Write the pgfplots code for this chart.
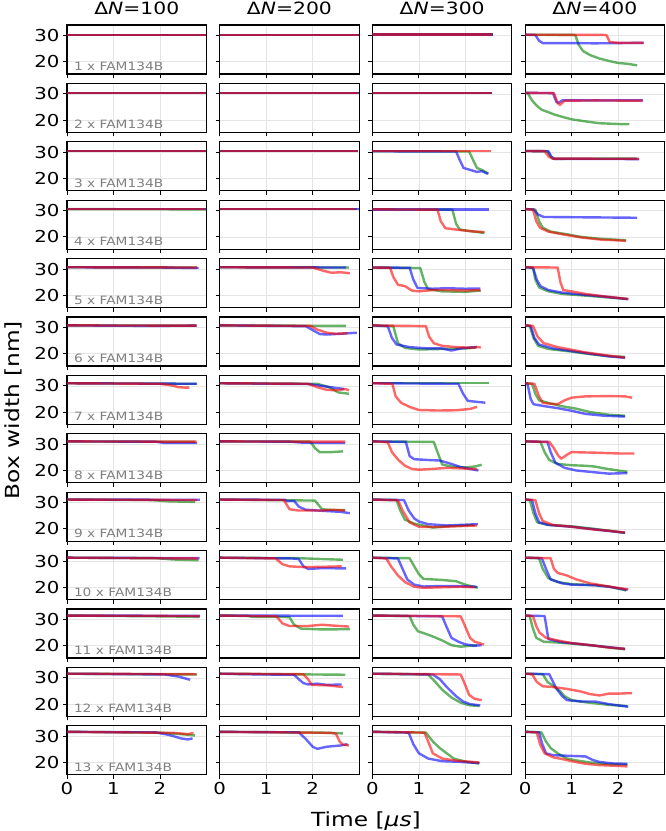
\documentclass[border=0pt]{standalone}
\usepackage{fontspec}
\setmainfont{DejaVu Sans}[FakeStretch=1.2]
\usepackage{pgfplots}
\pgfplotsset{compat=1.18}
\definecolor{mblue}{rgb}{0,0,1}
\definecolor{mgreen}{rgb}{0,0.5,0}
\definecolor{mred}{rgb}{1,0,0}
\pgfplotsset{
  panel/.style={scale only axis, width=139.5bp, height=49bp,
    xmin=0, xmax=3, ymin=15.3, ymax=34,
    xtick={0,1,2}, ytick={20,30}, tick pos=left,
    grid=major, major grid style={black!10, line width=0.6bp},
    axis line style={black, line width=1.1bp},
    tick style={black, line width=0.9bp}, tick align=outside, major tick length=4bp,
    xticklabels={}, yticklabels={},
    tick label style={font=\fontsize{16.5}{16.5}\selectfont},
    /pgf/number format/assume math mode=true},
  bl/.style={mblue, draw opacity=0.6, line width=2.4bp, line join=round},
  gr/.style={mgreen, draw opacity=0.6, line width=2.4bp, line join=round},
  rd/.style={mred, draw opacity=0.6, line width=2.4bp, line join=round},
  c0/.style={yticklabels={20,30}}, c1/.style={}, c2/.style={}, c3/.style={},
  r0/.style={}, r1/.style={}, r2/.style={}, r3/.style={}, r4/.style={}, r5/.style={},
  r6/.style={}, r7/.style={}, r8/.style={}, r9/.style={}, r10/.style={}, r11/.style={},
  r12/.style={xticklabels={0,1,2}},
}
% #3 blue, #4 green, #5 red ; drawn green, blue, red
\newcommand\panel[5]{%
  \begin{axis}[panel,c#1,r#2,at={({(67+152.7*#1)*1bp},{(806-58.4*#2)*1bp})},anchor=north west]
  \addplot[gr] coordinates {#4};
  \addplot[bl] coordinates {#3};
  \addplot[rd] coordinates {#5};
  \ifnum#1=0 \node[anchor=base west, text=black!50, font=\fontsize{11.5}{11.5}\selectfont] at (rel axis cs:0.025,0.07) {\the\numexpr#2+1\relax{} x FAM134B};\fi
  \end{axis}}
\begin{document}
\begin{tikzpicture}
\path[use as bounding box] (0,0) rectangle (666bp,831bp);
% titles and labels
\node[anchor=base, font=\fontsize{17}{17}\selectfont] at (136.75bp,816bp) {Δ\textit{N}=100};
\node[anchor=base, font=\fontsize{17}{17}\selectfont] at (289.45bp,816bp) {Δ\textit{N}=200};
\node[anchor=base, font=\fontsize{17}{17}\selectfont] at (442.15bp,816bp) {Δ\textit{N}=300};
\node[anchor=base, font=\fontsize{17}{17}\selectfont] at (594.85bp,816bp) {Δ\textit{N}=400};
\node[anchor=base, font=\fontsize{19.5}{19.5}\selectfont] at (366bp,5bp) {Time [\textit{μs}]};
\node[rotate=90, font=\fontsize{19.5}{19.5}\selectfont] at (13bp,421bp) {Box width [nm]};
% ---------------- column 1 : dN=100
\panel{0}{0}{(0,30.2)(3,30.2)}{(0,30.2)(3,30.2)}{(0,30.2)(3,30.2)}
\panel{0}{1}{(0,30.3)(3,30.3)}{(0,30.3)(3,30.3)}{(0,30.3)(3,30.3)}
\panel{0}{2}{(0,30.5)(3,30.5)}{(0,30.5)(2.98,30.5)}{(0,30.5)(2.98,30.5)}
\panel{0}{3}{(0,30.6)(2.98,30.6)}{(0,30.6)(3,30.5)}{(0,30.6)(2.97,30.6)}
\panel{0}{4}{(0,30.7)(2.0,30.6)(2.83,30.4)}{(0,30.7)(2.8,30.6)}{(0,30.7)(2.8,30.6)}
\panel{0}{5}{(0,30.8)(1.8,30.6)(2.79,30.7)}{(0,30.8)(2.77,30.7)}{(0,30.8)(2.79,30.7)}
\panel{0}{6}{(0,31.0)(2.8,30.8)}{(0,31.0)(2.78,30.8)}{(0,31.0)(2.0,30.8)(2.25,30.2)(2.4,29.5)(2.6,29.3)(2.63,29.5)}
\panel{0}{7}{(0,31.1)(1.9,31.0)(2.1,30.5)(2.8,30.5)}{(0,31.1)(2.75,30.9)}{(0,31.1)(2.79,31.0)}
\panel{0}{8}{(0,31.2)(2.86,31.1)}{(0,31.2)(1.8,31.0)(2.2,30.5)(2.75,30.3)}{(0,31.2)(2.8,31.0)}
\panel{0}{9}{(0,31.3)(2.85,31.1)}{(0,31.3)(1.9,31.1)(2.3,30.6)(2.83,30.3)}{(0,31.3)(2.82,31.0)}
\panel{0}{10}{(0,31.5)(2.86,31.4)}{(0,31.5)(2.0,31.2)(2.85,31.0)}{(0,31.5)(2.85,31.3)}
\panel{0}{11}{(0,31.6)(2.1,31.3)(2.4,30.5)(2.6,29.5)(2.65,29.3)}{(0,31.6)(2.8,31.3)}{(0,31.6)(2.78,31.4)}
\panel{0}{12}{(0,31.7)(1.9,31.5)(2.2,30.5)(2.45,29.2)(2.6,28.8)(2.7,29.2)}{(0,31.7)(2.0,31.4)(2.3,31.0)(2.6,30.6)(2.75,30.3)}{(0,31.7)(2.3,31.3)(2.5,31.0)(2.6,30.8)(2.72,31.3)}
% ---------------- column 2 : dN=200
\panel{1}{0}{(0,30.2)(3,30.2)}{(0,30.2)(3,30.2)}{(0,30.2)(3,30.2)}
\panel{1}{1}{(0,30.3)(3,30.3)}{(0,30.3)(3,30.3)}{(0,30.3)(2.98,30.3)}
\panel{1}{2}{(0,30.5)(2.97,30.5)}{(0,30.5)(2.97,30.5)}{(0,30.5)(2.97,30.5)}
\panel{1}{3}{(0,30.6)(3,30.6)}{(0,30.6)(2.95,30.6)}{(0,30.6)(2.9,30.6)}
\panel{1}{4}{(0,30.7)(2.72,30.6)}{(0,30.7)(2.78,30.6)}{(0,30.7)(2.0,30.6)(2.2,29.5)(2.4,28.6)(2.6,28.8)(2.8,28.4)}
\panel{1}{5}{(0,30.8)(1.85,30.5)(2.0,29.0)(2.15,27.5)(2.3,27.3)(2.6,27.6)(2.95,28.0)}{(0,30.8)(2.72,30.6)}{(0,30.8)(1.95,30.6)(2.1,29.2)(2.3,28.0)(2.5,27.6)(2.75,27.8)}
\panel{1}{6}{(0,31.0)(1.9,30.7)(2.2,30.0)(2.5,29.2)(2.68,28.8)}{(0,31.0)(2.1,30.8)(2.35,29.5)(2.55,27.5)(2.78,27.0)}{(0,31.0)(1.9,30.8)(2.1,29.5)(2.3,28.5)(2.5,28.3)(2.7,28.8)(2.78,28.3)}
\panel{1}{7}{(0,31.1)(1.5,31.0)(1.8,30.6)(2.7,30.5)}{(0,31.1)(1.95,31.0)(2.05,28.5)(2.15,27.0)(2.4,27.0)(2.65,27.3)}{(0,31.1)(2.7,31.0)}
\panel{1}{8}{(0,31.2)(1.4,31.1)(1.45,30.6)(1.6,30.7)(1.7,28.5)(1.85,27.3)(2.3,26.8)(2.6,26.5)(2.8,26.0)}{(0,31.2)(2.05,30.8)(2.2,27.5)(2.4,27.2)(2.7,27.2)}{(0,31.2)(1.38,31.0)(1.5,27.5)(1.7,27.0)(2.2,27.0)(2.4,27.3)(2.7,27.0)}
\panel{1}{9}{(0,31.3)(1.55,31.0)(1.7,30.8)(1.8,28.0)(1.9,27.0)(2.2,27.3)(2.72,27.2)}{(0,31.3)(1.7,31.1)(2.65,30.5)}{(0,31.3)(1.2,31.0)(1.35,28.8)(1.5,28.0)(1.8,27.7)(2.2,27.8)(2.62,28.0)}
\panel{1}{10}{(0,31.5)(2.65,31.4)}{(0,31.5)(0.6,31.4)(0.7,31.0)(1.2,31.0)(1.5,30.9)(1.6,28.0)(1.75,26.5)(2.2,26.2)(2.8,26.3)}{(0,31.5)(1.22,31.2)(1.35,28.5)(1.5,27.5)(1.9,27.5)(2.2,28.0)(2.5,27.6)(2.78,27.3)}
\panel{1}{11}{(0,31.6)(0.9,31.3)(1.6,31.2)(1.7,29.5)(1.8,28.0)(1.9,27.5)(2.1,27.8)(2.3,27.3)(2.62,27.5)}{(0,31.6)(2.7,31.2)}{(0,31.6)(1.8,31.4)(1.9,29.5)(1.98,27.3)(2.3,27.2)(2.65,26.5)}
\panel{1}{12}{(0,31.7)(1.7,31.5)(1.85,29.0)(2.0,26.0)(2.1,25.2)(2.3,26.0)(2.6,26.5)(2.75,27.0)}{(0,31.7)(2.2,31.4)(2.65,31.1)}{(0,31.7)(2.4,31.3)(2.5,31.0)(2.58,28.0)(2.65,26.8)(2.78,26.5)}
% ---------------- column 3 : dN=300
\panel{2}{0}{(0,30.3)(2.6,30.3)}{(0,30.3)(2.6,30.3)}{(0,30.3)(2.58,30.3)}
\panel{2}{1}{(0,30.3)(2.57,30.3)}{(0,30.3)(2.57,30.3)}{(0,30.3)(2.57,30.3)}
\panel{2}{2}{(0,30.4)(1.8,30.3)(1.88,27.0)(1.96,24.0)(2.1,23.3)(2.25,22.5)(2.35,22.8)(2.48,21.8)}{(0,30.4)(2.08,30.3)(2.18,26.5)(2.25,24.0)(2.35,23.3)(2.45,22.3)(2.5,21.8)}{(0,30.4)(2.54,30.4)}
\panel{2}{3}{(0,30.5)(2.5,30.5)}{(0,30.5)(1.72,30.4)(1.8,25.0)(1.88,22.8)(2.1,22.2)(2.41,21.5)}{(0,30.5)(1.4,30.4)(1.47,26.0)(1.57,23.3)(1.8,22.8)(2.1,22.2)(2.41,21.8)}
\panel{2}{4}{(0,30.6)(0.8,30.5)(0.88,26.0)(0.97,22.8)(1.3,22.5)(1.6,22.7)(2.0,22.5)(2.32,22.6)}{(0,30.6)(1.03,30.4)(1.12,25.0)(1.2,22.3)(1.5,21.5)(2.0,21.3)(2.33,21.8)}{(0,30.6)(0.38,30.5)(0.45,27.0)(0.55,24.0)(0.7,23.5)(0.85,21.8)(1.0,21.5)(1.3,22.0)(1.6,22.0)(2.0,21.8)(2.32,22.0)}
\panel{2}{5}{(0,30.8)(0.33,30.5)(0.42,26.0)(0.52,23.5)(0.8,22.5)(1.2,22.0)(1.5,22.0)(1.7,21.2)(1.9,22.0)(2.25,22.6)}{(0,30.8)(0.45,30.5)(0.55,24.0)(0.7,22.2)(1.0,21.6)(1.5,21.8)(2.0,22.0)(2.22,22.3)}{(0,30.8)(1.15,30.5)(1.22,26.5)(1.32,24.0)(1.5,23.0)(1.8,22.5)(2.1,22.3)(2.3,22.5)(2.33,22.3)}
\panel{2}{6}{(0,31.0)(1.85,30.8)(1.95,27.0)(2.05,24.3)(2.3,23.8)(2.43,23.6)}{(0,31.0)(2.5,31.0)}{(0,31.0)(0.43,30.8)(0.5,26.0)(0.62,23.5)(0.8,22.0)(1.0,20.8)(1.4,20.6)(1.8,20.7)(2.1,21.2)(2.25,22.0)}
\panel{2}{7}{(0,31.1)(0.72,30.9)(0.8,25.5)(0.9,24.3)(1.2,24.0)(1.45,23.8)(1.7,22.5)(1.9,21.3)(2.1,20.6)(2.28,20.0)}{(0,31.1)(1.32,30.9)(1.4,27.0)(1.5,22.3)(1.7,21.5)(2.0,21.2)(2.2,21.5)(2.35,22.2)}{(0,31.1)(0.33,30.8)(0.42,27.0)(0.56,24.0)(0.7,21.8)(0.85,20.6)(1.0,20.3)(1.3,20.6)(1.6,21.0)(1.9,20.8)(2.25,20.5)}
\panel{2}{8}{(0,31.2)(0.68,31.0)(0.78,27.0)(0.9,24.0)(1.0,22.8)(1.2,21.8)(1.6,21.3)(2.0,21.6)(2.27,21.8)}{(0,31.2)(0.52,31.0)(0.6,27.0)(0.7,23.5)(0.9,22.0)(1.3,20.5)(1.6,21.0)(2.0,21.3)(2.2,21.5)}{(0,31.2)(0.55,30.9)(0.65,27.0)(0.8,22.5)(1.0,20.8)(1.4,20.7)(1.8,21.0)(2.25,21.3)}
\panel{2}{9}{(0,31.3)(0.55,31.0)(0.65,27.0)(0.75,23.0)(0.9,21.0)(1.1,20.3)(1.5,20.5)(1.9,20.4)(2.25,20.2)}{(0,31.3)(0.8,31.1)(0.9,28.0)(1.0,25.0)(1.1,23.2)(1.5,22.8)(1.8,22.3)(2.0,21.0)(2.27,19.8)}{(0,31.3)(0.3,31.0)(0.4,28.0)(0.55,24.5)(0.7,22.0)(0.9,20.2)(1.1,19.8)(1.5,20.0)(1.9,20.2)(2.2,20.0)}
\panel{2}{10}{(0,31.5)(1.5,31.2)(1.6,27.0)(1.7,23.0)(1.85,21.5)(2.0,20.5)(2.2,20.0)(2.35,20.2)}{(0,31.5)(0.8,31.3)(0.88,28.0)(0.98,25.5)(1.1,24.8)(1.3,23.5)(1.5,22.0)(1.7,20.2)(1.9,19.6)(2.1,20.0)(2.25,20.1)}{(0,31.5)(1.9,31.2)(1.98,28.0)(2.1,23.0)(2.2,21.5)(2.3,21.0)(2.4,20.4)}
\panel{2}{11}{(0,31.6)(1.3,31.3)(1.45,29.5)(1.6,26.5)(1.8,23.0)(1.95,21.0)(2.1,20.0)(2.32,19.5)}{(0,31.6)(1.2,31.3)(1.35,28.5)(1.5,25.5)(1.7,22.5)(1.9,20.5)(2.1,19.5)(2.3,19.3)}{(0,31.6)(1.9,31.3)(1.98,28.0)(2.08,23.5)(2.2,22.0)(2.35,21.5)}
\panel{2}{12}{(0,31.7)(0.78,31.4)(0.88,27.0)(1.0,23.5)(1.2,21.5)(1.5,20.5)(1.8,20.3)(2.3,19.8)}{(0,31.7)(1.15,31.4)(1.3,28.0)(1.45,25.5)(1.6,23.5)(1.75,21.5)(2.0,20.3)(2.3,19.6)}{(0,31.7)(1.12,31.4)(1.2,28.0)(1.3,23.5)(1.5,21.5)(1.8,20.7)(2.1,20.3)(2.3,20.0)}
% ---------------- column 4 : dN=400
\panel{3}{0}{(0,30.3)(0.22,30.2)(0.3,28.0)(0.38,27.1)(1.0,27.1)(1.5,27.0)(2.55,27.2)}{(0,30.3)(1.08,30.2)(1.15,26.5)(1.25,24.0)(1.4,22.5)(1.6,21.2)(1.8,20.3)(2.0,19.5)(2.2,19.2)(2.41,18.6)}{(0,30.3)(1.75,30.2)(1.82,27.5)(2.0,27.2)(2.55,27.2)}
\panel{3}{1}{(0,30.4)(0.6,30.3)(0.67,27.0)(0.72,26.6)(0.8,27.5)(1.5,27.5)(2.54,27.5)}{(0,30.4)(0.06,30.2)(0.15,27.5)(0.25,25.5)(0.35,24.0)(0.5,23.0)(0.65,22.0)(0.85,21.0)(1.0,20.3)(1.3,19.5)(1.6,18.8)(2.0,18.5)(2.24,18.4)}{(0,30.4)(0.62,30.3)(0.7,26.5)(0.75,25.8)(0.85,27.4)(1.5,27.5)(2.52,27.4)}
\panel{3}{2}{(0,30.5)(0.5,30.4)(0.56,28.5)(0.62,27.5)(2.45,27.4)}{(0,30.5)(0.48,30.4)(0.55,28.3)(0.62,27.5)(2.4,27.6)}{(0,30.5)(0.42,30.4)(0.5,28.5)(0.58,27.6)(2.45,27.5)}
\panel{3}{3}{(0,30.6)(0.18,30.5)(0.28,28.5)(0.4,27.6)(2.41,27.3)}{(0,30.6)(0.22,30.4)(0.3,26.0)(0.38,23.5)(0.55,22.0)(0.9,21.0)(1.2,20.0)(1.6,19.3)(2.17,18.7)}{(0,30.6)(0.17,30.4)(0.24,26.0)(0.32,23.5)(0.5,22.0)(0.8,21.0)(1.2,19.8)(1.6,19.0)(2.17,18.5)}
\panel{3}{4}{(0,30.7)(0.17,30.5)(0.25,26.0)(0.33,23.5)(0.5,22.0)(0.8,21.0)(1.2,20.3)(1.7,19.5)(2.22,18.5)}{(0,30.7)(0.17,30.5)(0.22,26.0)(0.3,23.0)(0.5,21.5)(0.8,20.5)(1.2,20.0)(1.7,19.3)(2.2,18.6)}{(0,30.7)(0.7,30.6)(0.76,25.0)(0.82,22.0)(1.0,21.5)(1.3,20.5)(1.7,19.6)(2.22,18.6)}
\panel{3}{5}{(0,30.8)(0.12,30.6)(0.2,26.0)(0.3,23.5)(0.6,22.0)(1.0,21.0)(1.4,20.0)(1.8,19.0)(2.15,18.4)}{(0,30.8)(0.1,30.6)(0.18,26.0)(0.28,23.0)(0.5,21.8)(1.0,20.8)(1.4,19.8)(1.8,19.0)(2.15,18.8)}{(0,30.8)(0.17,30.6)(0.27,26.5)(0.4,24.0)(0.7,22.5)(1.0,21.5)(1.3,20.5)(1.7,19.5)(2.15,18.5)}
\panel{3}{6}{(0,31.0)(0.05,30.8)(0.12,25.0)(0.18,23.0)(0.4,22.3)(0.7,21.5)(1.0,20.5)(1.3,19.3)(1.7,18.6)(2.15,18.3)}{(0,31.0)(0.15,30.8)(0.22,27.0)(0.3,24.5)(0.5,23.5)(0.8,22.2)(1.1,21.3)(1.4,20.0)(1.8,19.0)(2.15,18.6)}{(0,31.0)(0.2,30.8)(0.3,26.0)(0.38,23.5)(0.55,23.2)(0.7,23.0)(0.85,24.5)(1.0,25.5)(1.3,26.0)(1.8,26.1)(2.15,26.0)(2.3,25.5)}
\panel{3}{7}{(0,31.1)(0.48,30.9)(0.55,27.0)(0.65,23.0)(0.85,21.0)(1.1,20.0)(1.5,19.3)(1.8,18.8)(2.2,19.0)}{(0,31.1)(0.33,30.9)(0.42,27.0)(0.52,24.0)(0.7,22.5)(1.0,22.0)(1.3,21.8)(1.5,21.5)(1.7,20.8)(2.0,20.0)(2.2,19.5)}{(0,31.1)(0.52,30.9)(0.62,28.5)(0.72,25.5)(0.78,24.5)(0.9,26.0)(1.0,27.0)(1.5,26.8)(2.0,26.5)(2.35,26.5)}
\panel{3}{8}{(0,31.2)(0.15,31.0)(0.22,26.0)(0.3,22.5)(0.5,21.5)(1.0,20.8)(1.5,19.8)(1.8,19.2)(2.15,18.5)}{(0,31.2)(0.1,31.0)(0.18,26.0)(0.26,22.5)(0.5,21.5)(1.0,21.0)(1.5,20.0)(1.8,19.3)(2.15,18.5)}{(0,31.2)(0.22,31.0)(0.3,26.0)(0.38,23.0)(0.6,21.5)(1.0,20.8)(1.5,19.7)(1.8,19.3)(2.15,18.6)}
\panel{3}{9}{(0,31.3)(0.36,31.1)(0.45,27.0)(0.55,23.0)(0.8,21.5)(1.0,21.0)(1.5,20.8)(1.8,20.2)(2.2,19.0)}{(0,31.3)(0.3,31.1)(0.38,27.0)(0.5,23.5)(0.7,22.0)(1.0,21.2)(1.5,20.8)(1.8,20.3)(2.17,18.8)}{(0,31.3)(0.55,31.1)(0.62,27.0)(0.7,25.5)(0.9,24.5)(1.1,23.0)(1.4,21.5)(1.8,20.3)(2.22,19.2)}
\panel{3}{10}{(0,31.5)(0.42,31.3)(0.46,27.0)(0.5,22.5)(0.8,21.3)(1.2,20.6)(1.6,19.8)(2.15,18.8)}{(0,31.5)(0.1,31.3)(0.16,27.0)(0.24,23.0)(0.4,21.5)(0.7,21.2)(1.0,20.8)(1.5,20.0)(1.8,19.3)(2.15,18.6)}{(0,31.5)(0.17,31.3)(0.24,27.5)(0.31,25.0)(0.45,23.0)(0.7,22.0)(1.0,21.0)(1.5,20.0)(1.8,19.3)(2.15,18.8)}
\panel{3}{11}{(0,31.6)(0.52,31.4)(0.6,28.5)(0.67,26.0)(0.8,23.0)(0.9,21.5)(1.2,21.0)(1.5,21.0)(1.8,20.0)(2.22,19.0)}{(0,31.6)(0.38,31.4)(0.48,28.5)(0.6,27.0)(0.75,25.0)(0.85,23.0)(1.0,21.5)(1.3,20.7)(1.8,19.7)(2.2,19.2)}{(0,31.6)(0.15,31.4)(0.25,28.5)(0.38,26.8)(0.6,26.5)(0.9,25.8)(1.2,24.8)(1.4,23.8)(1.6,23.3)(1.8,24.0)(2.0,24.0)(2.3,24.2)}
\panel{3}{12}{(0,31.7)(0.3,31.5)(0.37,27.0)(0.45,23.5)(0.6,22.8)(1.0,22.5)(1.3,22.3)(1.45,21.0)(1.6,20.2)(1.9,19.6)(2.2,19.5)}{(0,31.7)(0.35,31.5)(0.45,28.0)(0.55,25.5)(0.7,23.5)(0.9,21.5)(1.1,20.8)(1.4,20.0)(1.8,19.3)(2.2,19.2)}{(0,31.7)(0.25,31.5)(0.32,27.0)(0.42,23.5)(0.6,22.0)(0.8,21.3)(1.0,20.5)(1.3,19.5)(1.6,19.0)(2.0,18.7)(2.2,18.5)}
\end{tikzpicture}
\end{document}
